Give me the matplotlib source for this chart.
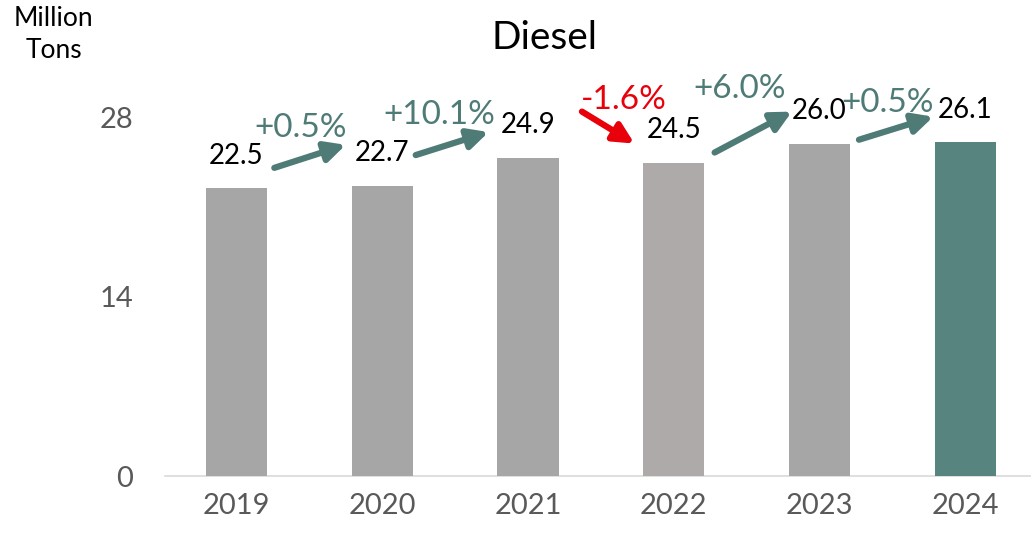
import matplotlib
matplotlib.use("Agg")
import matplotlib.pyplot as plt
import numpy as np

# Diesel volume by year, million tons
anos = ["2019", "2020", "2021", "2022", "2023", "2024"]
volume = [22.5, 22.7, 24.9, 24.5, 26.0, 26.1]
variacao = ["+0.5%", "+10.1%", "-1.6%", "+6.0%", "+0.5%"]
yticks = [0, 14, 28]

COR_BARRA = "#A6A6A6"
COR_2022 = "#AEAAAA"
COR_2024 = "#588480"
COR_SETA = "#4F7B77"
COR_QUEDA = "#E8000B"
COR_EIXO = "#595959"

plt.rcParams["font.family"] = ["Lato", "DejaVu Sans"]

fig = plt.figure(figsize=(10.31, 5.34), dpi=100, facecolor="white")
ax = fig.add_axes([0.160, 0.1086, 0.840, 0.862])

x = np.arange(len(anos))
cores = [COR_BARRA] * len(anos)
cores[3] = COR_2022
cores[-1] = COR_2024
ax.bar(x, volume, width=0.42, color=cores, zorder=3)

ax.set_xlim(-0.49, 5.45)
ax.set_ylim(0, 36)
ax.set_yticks(yticks)
ax.set_yticklabels([str(t) for t in yticks], fontsize=21, color=COR_EIXO)
ax.set_xticks(x)
ax.set_xticklabels(anos, fontsize=21, color=COR_EIXO)
ax.tick_params(axis="x", length=0, pad=12)
ax.tick_params(axis="y", length=0, pad=23)
for s in ["top", "right", "left"]:
    ax.spines[s].set_visible(False)
ax.spines["bottom"].set_color("#D9D9D9")
ax.spines["bottom"].set_linewidth(1.2)

# rótulos de valor acima das barras
for xi, v in zip(x, volume):
    ax.annotate(f"{v:.1f}", (xi, v), xytext=(0, 14), textcoords="offset points",
                ha="center", va="bottom", fontsize=20, color="black", zorder=5)

# setas de variação ano a ano: (x início, desloc. início, x fim, desloc. fim, pos. do rótulo)
setas = [
    (0.26, 1.6, 0.75, 3.2, 0.44, 27.2),
    (1.23, 2.4, 1.73, 2.0, 1.39, 28.2),
    (2.37, 3.6, 2.73, 1.5, 2.66, 29.4),
    (3.28, 0.8, 3.81, 2.5, 3.45, 30.3),
    (4.27, 0.3, 4.78, 2.0, 4.47, 29.2),
]
for i, (txt, (x0, dy0, x1, dy1, xl, yl)) in enumerate(zip(variacao, setas)):
    cor = COR_QUEDA if txt.startswith("-") else COR_SETA
    ax.annotate("", xy=(x1, volume[i + 1] + dy1), xytext=(x0, volume[i] + dy0),
                arrowprops=dict(arrowstyle="-|>,head_length=1.2,head_width=0.6",
                                color=cor, lw=4.5, shrinkA=0, shrinkB=0),
                zorder=4)
    ax.text(xl, yl, txt, ha="center", va="center", fontsize=24, color=cor, zorder=6)

fig.text(0.528, 0.928, "Diesel", ha="center", va="center", fontsize=28, color="black")
fig.text(0.052, 0.935, "Million\nTons", ha="center", va="center", fontsize=19,
         color="black", linespacing=1.35)

plt.savefig("out.png", dpi=100, facecolor="white")
